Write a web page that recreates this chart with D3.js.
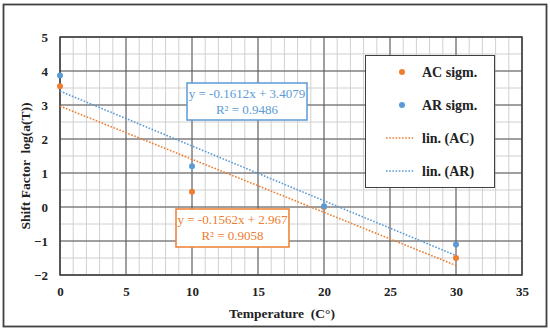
<!DOCTYPE html>
<html><head><meta charset="utf-8">
<script src="https://cdn.jsdelivr.net/npm/d3@7"></script>
<style>body{margin:0;background:#fff}svg{display:block}text{font-family:"Liberation Serif","DejaVu Serif",serif;white-space:pre}</style>
</head><body><svg id="c" width="550" height="332"></svg>
<script>
const temps = [0, 10, 20, 30];
const acValues = [3.55, 0.45, 0.0, -1.5];
const arValues = [3.87, 1.2, 0.02, -1.1];
const acFit = {slope: -0.1562, intercept: 2.967, label: "y = -0.1562x + 2.967", r2: "R² = 0.9058"};
const arFit = {slope: -0.1612, intercept: 3.4079, label: "y = -0.1612x + 3.4079", r2: "R² = 0.9486"};
const xTicks = [0, 5, 10, 15, 20, 25, 30, 35];
const yTicks = [-2, -1, 0, 1, 2, 3, 4, 5];
const legendLabels = ["AC sigm.", "AR sigm.", "lin. (AC)", "lin. (AR)"];

const orange = "#ED7D31", blue = "#5B9BD5";
const svg = d3.select("#c");
const L = 60, T = 37, R = 522, B = 275;
const x = d3.scaleLinear().domain([0, 35]).range([L, R]);
const y = d3.scaleLinear().domain([-2, 5]).range([B, T]);

// outer frame
svg.append("rect").attr("x", 3.5).attr("y", 4.5).attr("width", 543).attr("height", 322)
  .attr("fill", "#fff").attr("stroke", "#404040").attr("stroke-width", 1.8);

// minor grid
const g = svg.append("g");
g.selectAll(".mx").data(d3.range(0, 35.01, 1)).join("line")
  .attr("x1", d => x(d)).attr("x2", d => x(d)).attr("y1", T).attr("y2", B)
  .attr("stroke", "#d0d0d0").attr("stroke-width", 1);
g.selectAll(".my").data(d3.range(-2, 5.01, 0.5)).join("line")
  .attr("y1", d => y(d)).attr("y2", d => y(d)).attr("x1", L).attr("x2", R)
  .attr("stroke", "#d0d0d0").attr("stroke-width", 1);
// major grid
g.selectAll(".Mx").data(xTicks).join("line")
  .attr("x1", d => x(d)).attr("x2", d => x(d)).attr("y1", T).attr("y2", B)
  .attr("stroke", "#595959").attr("stroke-width", 1);
g.selectAll(".My").data(yTicks).join("line")
  .attr("y1", d => y(d)).attr("y2", d => y(d)).attr("x1", L).attr("x2", R)
  .attr("stroke", "#595959").attr("stroke-width", 1);
svg.append("rect").attr("x", L).attr("y", T).attr("width", R - L).attr("height", B - T)
  .attr("fill", "none").attr("stroke", "#404040").attr("stroke-width", 1.5);

// axes labels via d3 axes
const xAxis = svg.append("g").attr("transform", `translate(0,${B})`)
  .call(d3.axisBottom(x).tickValues(xTicks).tickSize(0).tickPadding(12));
const yAxis = svg.append("g").attr("transform", `translate(${L},0)`)
  .call(d3.axisLeft(y).tickValues(yTicks).tickSize(0).tickPadding(12).tickFormat(d3.format("d")));
[xAxis, yAxis].forEach(a => {
  a.select(".domain").remove();
  a.selectAll("text").attr("font-family", '"Liberation Serif",serif').attr("font-size", 13)
    .attr("font-weight", "bold").attr("fill", "#222");
});

svg.append("text").attr("x", 282).attr("y", 318).attr("text-anchor", "middle")
  .attr("font-size", 13.5).attr("font-weight", "bold").attr("fill", "#222").text("Temperature  (C°)");
svg.append("text").attr("transform", "translate(30,166) rotate(-90)").attr("text-anchor", "middle")
  .attr("font-size", 13.5).attr("font-weight", "bold").attr("fill", "#222").text("Shift Factor  log(a(T))");

// trend lines
const fits = [[acFit, orange], [arFit, blue]];
fits.forEach(([f, c]) => {
  svg.append("line").attr("x1", x(0)).attr("y1", y(f.intercept))
    .attr("x2", x(30)).attr("y2", y(f.intercept + f.slope * 30))
    .attr("stroke", c).attr("stroke-width", 1.6).attr("stroke-dasharray", "1.6,1.6");
});

// points
svg.selectAll(".ac").data(temps).join("circle")
  .attr("cx", d => x(d)).attr("cy", (d, i) => y(acValues[i])).attr("r", 3).attr("fill", orange);
svg.selectAll(".ar").data(temps).join("circle")
  .attr("cx", d => x(d)).attr("cy", (d, i) => y(arValues[i])).attr("r", 3).attr("fill", blue);

// equation boxes
function eqBox(f, c, bx, by, bw, bh) {
  svg.append("rect").attr("x", bx).attr("y", by).attr("width", bw).attr("height", bh)
    .attr("fill", "#fff").attr("stroke", c).attr("stroke-width", 1.5);
  svg.append("text").attr("x", bx + bw / 2).attr("y", by + 15).attr("text-anchor", "middle")
    .attr("font-size", 13).attr("fill", c).text(f.label);
  svg.append("text").attr("x", bx + bw / 2).attr("y", by + 31).attr("text-anchor", "middle")
    .attr("font-size", 13).attr("fill", c).text(f.r2);
}
eqBox(arFit, blue, 187, 83, 120, 37);
eqBox(acFit, orange, 176, 209, 113, 38);

// legend
svg.append("rect").attr("x", 365.5).attr("y", 55.5).attr("width", 129).attr("height", 132)
  .attr("fill", "#fff").attr("stroke", "#404040").attr("stroke-width", 1);
const ly = [72, 105, 138, 171];
const lc = [orange, blue, orange, blue];
legendLabels.forEach((lab, i) => {
  if (i < 2) svg.append("circle").attr("cx", 402).attr("cy", ly[i]).attr("r", 3).attr("fill", lc[i]);
  else svg.append("line").attr("x1", 386).attr("x2", 414).attr("y1", ly[i]).attr("y2", ly[i])
    .attr("stroke", lc[i]).attr("stroke-width", 1.6).attr("stroke-dasharray", "1.6,1.6");
  svg.append("text").attr("x", 422).attr("y", ly[i] + 5).attr("font-size", 14)
    .attr("font-weight", "bold").attr("fill", "#222").text(lab);
});
</script></body></html>
